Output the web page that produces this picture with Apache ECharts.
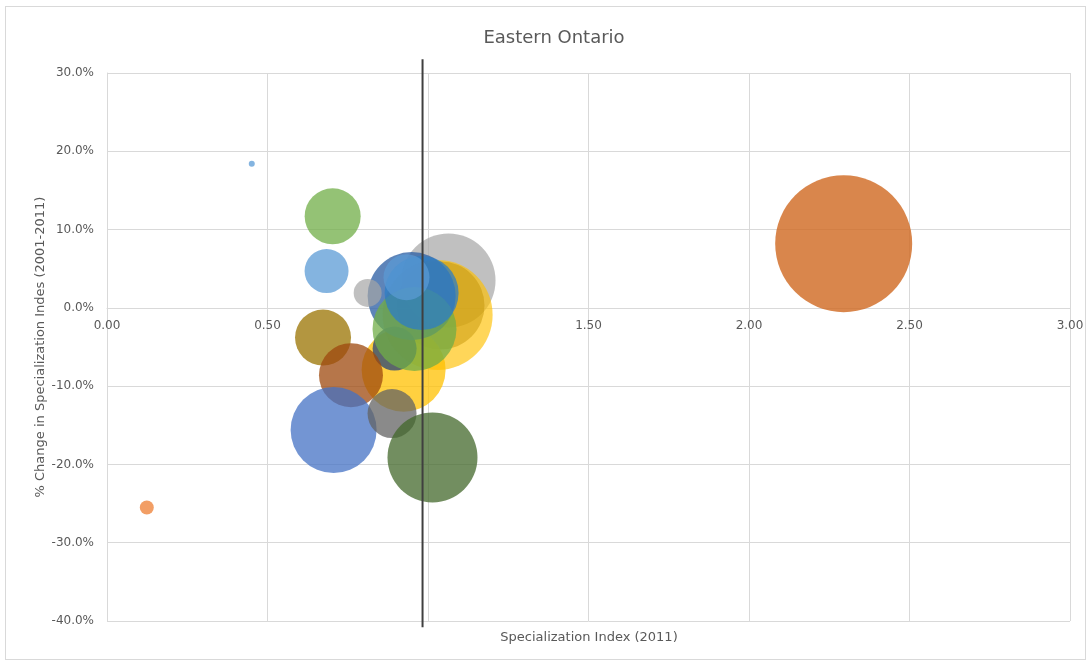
<!DOCTYPE html>
<html>
<head>
<meta charset="utf-8">
<title>Eastern Ontario</title>
<script src="https://cdn.jsdelivr.net/npm/echarts@6/dist/echarts.min.js"></script>
<style>
  html, body { margin: 0; padding: 0; background: #fff; }
  #frame { position: absolute; left: 5px; top: 6px; width: 1081px; height: 654px; border: 1px solid #d9d9d9; box-sizing: border-box; }
  #chart { position: absolute; left: 0; top: 0; width: 1092px; height: 664px; }
</style>
</head>
<body>
<div id="frame"></div>
<div id="chart"></div>
<script>
// One bubble per sector: x = specialization index (2011),
// y = % change in the index 2001-2011, bubble area = employment.
const sectors = ['S01', 'S02', 'S03', 'S04', 'S05', 'S06', 'S07', 'S08', 'S09', 'S10',
                 'S11', 'S12', 'S13', 'S14', 'S15', 'S16', 'S17', 'S18', 'S19', 'S20'];
const specIndex = [0.451, 0.124, 1.064, 1.030, 1.039, 0.924, 0.896, 0.949, 0.958, 0.980,
                   0.933, 0.703, 0.684, 0.812, 0.673, 0.760, 0.706, 0.888, 1.014, 2.295];
const pctChange = [18.4, -25.5, 3.5, -0.9, 0.3, -7.9, -5.2, 1.5, -2.7, 1.9,
                   3.9, 11.7, 4.7, 1.9, -3.8, -8.6, -15.6, -13.5, -19.1, 8.2];
const employment = [23, 125, 5650, 7735, 4950, 4510, 1237, 4958, 4510, 3500,
                    1350, 2005, 1237, 500, 2005, 2618, 4729, 1535, 5177, 12000];

// Fill colour of each sector's bubble
const sectorColors = ['#5B9BD5', '#ED7D31', '#A5A5A5', '#FFC000', '#BF9000', '#FFC000', '#264478',
                      '#3565A8', '#70AD47', '#2E7DC4', '#5B9BD5', '#70AD47', '#5B9BD5', '#A5A5A5',
                      '#997300', '#9E480E', '#4472C4', '#636363', '#43682B', '#D0681F'];
const sectorAlpha = [0.75, 0.75, 0.7, 0.65, 0.45, 0.75, 0.75, 0.8, 0.75, 0.75,
                     0.7, 0.75, 0.75, 0.7, 0.75, 0.75, 0.75, 0.75, 0.75, 0.8];

// Vertical reference line (provincial benchmark) and its extent
const benchmarkX = 0.983;
const benchmarkSpan = [31.75, -40.8];

const xTicks = { min: 0, max: 3, step: 0.5 };
const yTicks = { min: -40, max: 30, step: 10 };

const maxEmployment = Math.max(...employment);
const maxDiameter = 137;
const bubbleSize = d => maxDiameter * Math.sqrt(d[2] / maxEmployment);

const labelColor = '#595959';
const gridColor = '#d9d9d9';
const fontFamily = '"DejaVu Sans", "Open Sans", sans-serif';

const bubbleSeries = sectors.map((name, i) => ({
  name: name,
  type: 'scatter',
  data: [[specIndex[i], pctChange[i], employment[i]]],
  symbolSize: bubbleSize,
  itemStyle: { color: sectorColors[i], opacity: sectorAlpha[i] },
  emphasis: { disabled: true },
  z: 2
}));

const benchmarkSeries = {
  name: 'Benchmark',
  type: 'line',
  data: benchmarkSpan.map(y => [benchmarkX, y]),
  symbol: 'none',
  clip: false,
  lineStyle: { color: '#3f3f3f', width: 2 },
  z: 5
};

const chart = echarts.init(document.getElementById('chart'), null, { renderer: 'canvas' });
chart.setOption({
  animation: false,
  textStyle: { fontFamily: fontFamily },
  title: [{
    text: 'Eastern Ontario',
    left: 549,
    top: 24,
    textAlign: 'center',
    textStyle: { color: labelColor, fontSize: 18, fontWeight: 'normal', fontFamily: fontFamily }
  }, {
    text: 'Specialization Index (2011)',
    left: 584,
    top: 626,
    textAlign: 'center',
    textStyle: { color: labelColor, fontSize: 13, fontWeight: 'normal', fontFamily: fontFamily }
  }],
  grid: { left: 107, right: 22, top: 73, bottom: 43 },
  xAxis: {
    type: 'value',
    min: xTicks.min, max: xTicks.max, interval: xTicks.step,
    axisLine: { show: true, onZero: false, lineStyle: { color: gridColor, width: 1 } },
    axisTick: { show: false },
    axisLabel: { color: labelColor, fontSize: 12, margin: 12, formatter: v => v.toFixed(2) },
    splitLine: { show: true, lineStyle: { color: gridColor, width: 1 } }
  },
  yAxis: {
    type: 'value',
    min: yTicks.min, max: yTicks.max, interval: yTicks.step,
    axisLine: { show: true, onZero: false, lineStyle: { color: gridColor, width: 1 } },
    axisTick: { show: false },
    axisLabel: { color: labelColor, fontSize: 12, margin: 13, formatter: v => v.toFixed(1) + '%' },
    splitLine: { show: true, lineStyle: { color: gridColor, width: 1 } },
    name: '% Change in Specialization Indes (2001-2011)',
    nameLocation: 'middle',
    nameGap: 60,
    nameMoveOverlap: false,
    nameTextStyle: { color: labelColor, fontSize: 13, fontFamily: fontFamily }
  },
  series: bubbleSeries.concat([benchmarkSeries])
});

// The x axis crosses the y axis at 0%: shift it up from the grid's bottom edge.
const zeroY = chart.convertToPixel({ yAxisIndex: 0 }, 0);
const floorY = chart.convertToPixel({ yAxisIndex: 0 }, yTicks.min);
chart.setOption({ xAxis: { offset: zeroY - floorY } });
</script>
</body>
</html>
